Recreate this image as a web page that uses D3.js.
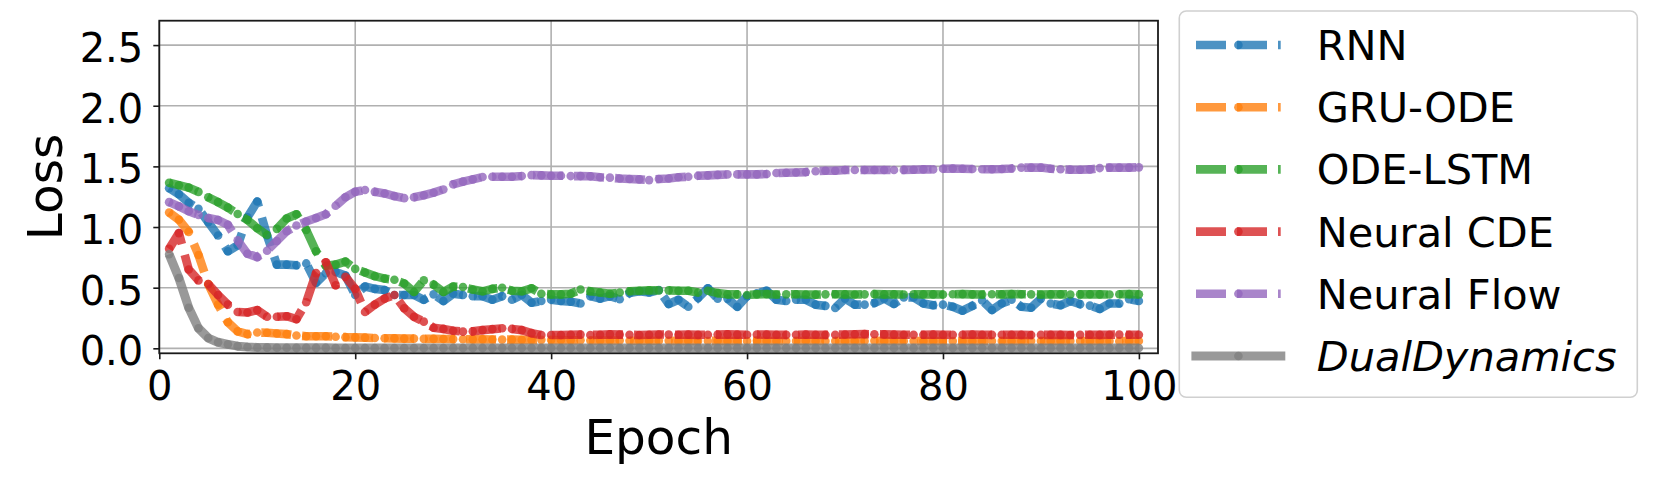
<!DOCTYPE html>
<html>
<head>
<meta charset="utf-8">
<script src="https://cdn.jsdelivr.net/npm/d3@7"></script>
<style>
  body { margin: 0; background: #fff; }
  svg { display: block; font-family: "DejaVu Sans", sans-serif; }
</style>
</head>
<body>
<svg id="chart"></svg>
<script>
// epochs 1..100
const epochs = d3.range(1, 101)

const seriesNames = ['RNN', 'GRU-ODE', 'ODE-LSTM', 'Neural CDE', 'Neural Flow', 'DualDynamics']

const rnnLoss = [
    1.32, 1.27, 1.20, 1.15, 1.04, 0.93, 0.80, 0.85, 1.08, 1.21,
    0.93, 0.69, 0.69, 0.685, 0.70, 0.54, 0.62, 0.63, 0.60, 0.44,
    0.51, 0.49, 0.48, 0.44, 0.44, 0.44, 0.40, 0.445, 0.39, 0.45,
    0.44, 0.43, 0.43, 0.40, 0.43, 0.40, 0.44, 0.376, 0.39, 0.40,
    0.39, 0.385, 0.37, 0.43, 0.41, 0.43, 0.405, 0.455, 0.47, 0.46,
    0.48, 0.365, 0.40, 0.343, 0.415, 0.495, 0.41, 0.41, 0.343, 0.43,
    0.453, 0.475, 0.40, 0.39, 0.40, 0.40, 0.36, 0.35, 0.333, 0.41,
    0.36, 0.36, 0.373, 0.41, 0.366, 0.42, 0.42, 0.37, 0.355, 0.36,
    0.343, 0.31, 0.35, 0.395, 0.316, 0.37, 0.40, 0.343, 0.335, 0.41,
    0.37, 0.355, 0.39, 0.364, 0.352, 0.325, 0.37, 0.37, 0.405, 0.39
]
const gruOdeLoss = [
    1.12, 1.06, 0.96, 0.77, 0.53, 0.36, 0.215, 0.14, 0.117, 0.13,
    0.128, 0.122, 0.117, 0.106, 0.10, 0.10, 0.10, 0.096, 0.092, 0.09,
    0.088, 0.085, 0.083, 0.082, 0.08, 0.08, 0.078, 0.078, 0.077, 0.076,
    0.075, 0.074, 0.074, 0.073, 0.072, 0.072, 0.071, 0.07, 0.07, 0.069,
    0.068, 0.067, 0.066, 0.065, 0.065, 0.064, 0.064, 0.063, 0.063, 0.063,
    0.062, 0.062, 0.061, 0.062, 0.061, 0.061, 0.062, 0.061, 0.060, 0.061,
    0.062, 0.061, 0.061, 0.060, 0.061, 0.062, 0.061, 0.060, 0.061, 0.061,
    0.060, 0.061, 0.062, 0.061, 0.060, 0.060, 0.061, 0.061, 0.060, 0.061,
    0.061, 0.060, 0.060, 0.061, 0.060, 0.061, 0.060, 0.060, 0.061, 0.060,
    0.060, 0.061, 0.060, 0.060, 0.061, 0.060, 0.060, 0.059, 0.060, 0.060
]
const odeLstmLoss = [
    1.365, 1.345, 1.325, 1.29, 1.245, 1.205, 1.16, 1.108, 1.058, 0.99,
    0.934, 0.985, 1.07, 1.105, 0.975, 0.80, 0.68, 0.69, 0.715, 0.655,
    0.625, 0.595, 0.575, 0.565, 0.535, 0.465, 0.56, 0.525, 0.465, 0.51,
    0.505, 0.485, 0.47, 0.49, 0.50, 0.475, 0.47, 0.495, 0.45, 0.445,
    0.445, 0.45, 0.485, 0.47, 0.46, 0.45, 0.46, 0.47, 0.475, 0.478,
    0.478, 0.478, 0.475, 0.475, 0.46, 0.475, 0.455, 0.445, 0.445, 0.44,
    0.445, 0.447, 0.444, 0.445, 0.446, 0.444, 0.443, 0.445, 0.446, 0.445,
    0.444, 0.445, 0.447, 0.445, 0.446, 0.444, 0.446, 0.445, 0.445, 0.444,
    0.446, 0.447, 0.445, 0.444, 0.446, 0.445, 0.447, 0.446, 0.445, 0.444,
    0.445, 0.446, 0.444, 0.445, 0.446, 0.445, 0.444, 0.446, 0.447, 0.445
]
const neuralCdeLoss = [
    0.82, 0.95, 0.65, 0.56, 0.53, 0.44, 0.36, 0.30, 0.295, 0.315,
    0.26, 0.26, 0.265, 0.24, 0.38, 0.62, 0.71, 0.52, 0.59, 0.49,
    0.30, 0.36, 0.41, 0.44, 0.33, 0.26, 0.22, 0.17, 0.16, 0.145,
    0.138, 0.14, 0.15, 0.158, 0.165, 0.16, 0.15, 0.125, 0.11, 0.11,
    0.11, 0.112, 0.113, 0.11, 0.112, 0.115, 0.113, 0.112, 0.11, 0.112,
    0.114, 0.113, 0.112, 0.113, 0.111, 0.112, 0.113, 0.115, 0.113, 0.112,
    0.114, 0.113, 0.112, 0.111, 0.112, 0.113, 0.112, 0.111, 0.112, 0.114,
    0.116, 0.117, 0.116, 0.115, 0.113, 0.112, 0.111, 0.112, 0.113, 0.112,
    0.111, 0.112, 0.113, 0.112, 0.111, 0.112, 0.112, 0.111, 0.110, 0.111,
    0.112, 0.111, 0.110, 0.111, 0.112, 0.111, 0.112, 0.113, 0.112, 0.112
]
const neuralFlowLoss = [
    1.205, 1.17, 1.13, 1.10, 1.075, 1.058, 1.018, 0.89, 0.78, 0.752,
    0.805, 0.885, 0.965, 1.012, 1.045, 1.075, 1.105, 1.175, 1.245, 1.29,
    1.305, 1.29, 1.277, 1.255, 1.238, 1.245, 1.262, 1.283, 1.31, 1.352,
    1.374, 1.393, 1.412, 1.415, 1.415, 1.415, 1.42, 1.428, 1.426, 1.423,
    1.423, 1.42, 1.42, 1.418, 1.41, 1.407, 1.40, 1.396, 1.393, 1.387,
    1.396, 1.40, 1.41, 1.415, 1.423, 1.426, 1.43, 1.434, 1.434, 1.434,
    1.434, 1.437, 1.445, 1.448, 1.45, 1.453, 1.46, 1.464, 1.464, 1.47,
    1.47, 1.47, 1.47, 1.47, 1.47, 1.471, 1.472, 1.475, 1.475, 1.48,
    1.483, 1.48, 1.478, 1.476, 1.476, 1.478, 1.483, 1.49, 1.49, 1.49,
    1.48, 1.476, 1.473, 1.472, 1.475, 1.486, 1.49, 1.49, 1.49, 1.492
]
const dualDynamicsLoss = [
    0.775, 0.58, 0.335, 0.165, 0.085, 0.05, 0.033, 0.018, 0.011, 0.007,
    0.006, 0.005, 0.005, 0.004, 0.004, 0.004, 0.004, 0.003, 0.003, 0.003,
    0.003, 0.003, 0.003, 0.003, 0.003, 0.003, 0.003, 0.003, 0.003, 0.003,
    0.003, 0.003, 0.003, 0.003, 0.003, 0.003, 0.003, 0.003, 0.003, 0.003,
    0.003, 0.003, 0.003, 0.003, 0.003, 0.003, 0.003, 0.003, 0.003, 0.003,
    0.003, 0.003, 0.003, 0.003, 0.003, 0.003, 0.003, 0.003, 0.003, 0.003,
    0.003, 0.003, 0.003, 0.003, 0.003, 0.003, 0.003, 0.003, 0.003, 0.003,
    0.003, 0.003, 0.003, 0.003, 0.003, 0.003, 0.003, 0.003, 0.003, 0.003,
    0.003, 0.003, 0.003, 0.003, 0.003, 0.003, 0.003, 0.003, 0.003, 0.003,
    0.003, 0.003, 0.003, 0.003, 0.003, 0.003, 0.003, 0.003, 0.003, 0.003
]

const xTicks = [0, 20, 40, 60, 80, 100]
const yTicks = [0, 0.5, 1.0, 1.5, 2.0, 2.5]

class LossChart {

    constructor(_config) {
        this.config = {
            parentElement: _config.parentElement,
            containerWidth: 1661,
            containerHeight: 485,
            plot: { left: 159.3, top: 20.7, right: 1158, bottom: 353.3 }
        }
        this.initVis()
    }

    initVis() {
        let vis = this
        let p = vis.config.plot

        vis.svg = d3.select(vis.config.parentElement)
            .attr('width', vis.config.containerWidth)
            .attr('height', vis.config.containerHeight)

        vis.xScale = d3.scaleLinear().domain([0, 101.95]).range([p.left, p.right])
        vis.yScale = d3.scaleLinear().domain([-0.041, 2.701]).range([p.bottom, p.top])

        vis.series = [
            { name: seriesNames[0], values: rnnLoss, color: '#1f77b4', dashed: true },
            { name: seriesNames[1], values: gruOdeLoss, color: '#ff7f0e', dashed: true },
            { name: seriesNames[2], values: odeLstmLoss, color: '#2ca02c', dashed: true },
            { name: seriesNames[3], values: neuralCdeLoss, color: '#d62728', dashed: true },
            { name: seriesNames[4], values: neuralFlowLoss, color: '#9467bd', dashed: true },
            { name: seriesNames[5], values: dualDynamicsLoss, color: '#7f7f7f', dashed: false }
        ]

        vis.renderVis()
    }

    renderVis() {
        let vis = this
        let p = vis.config.plot

        // grid
        let grid = vis.svg.append('g').attr('stroke', '#b0b0b0').attr('stroke-width', 1.6)
        grid.selectAll('.gx').data(xTicks).join('line')
            .attr('x1', d => vis.xScale(d)).attr('x2', d => vis.xScale(d))
            .attr('y1', p.top).attr('y2', p.bottom)
        grid.selectAll('.gy').data(yTicks).join('line')
            .attr('class', 'gy')
            .attr('x1', p.left).attr('x2', p.right)
            .attr('y1', d => vis.yScale(d)).attr('y2', d => vis.yScale(d))

        let line = d3.line()
            .x((d, i) => vis.xScale(epochs[i]))
            .y(d => vis.yScale(d))

        let plotG = vis.svg.append('g')
        vis.series.forEach(s => {
            let g = plotG.append('g')
            g.append('path')
                .attr('d', line(s.values))
                .attr('fill', 'none')
                .attr('stroke', s.color)
                .attr('stroke-opacity', 0.8)
                .attr('stroke-width', s.dashed ? 8.6 : 9)
                .attr('stroke-dasharray', s.dashed ? '30,11' : null)
                .attr('stroke-linejoin', 'round')
            g.selectAll('circle').data(s.values).join('circle')
                .attr('cx', (d, i) => vis.xScale(epochs[i]))
                .attr('cy', d => vis.yScale(d))
                .attr('r', 4.3)
                .attr('fill', s.color)
                .attr('fill-opacity', 0.8)
        })

        // spines
        vis.svg.append('rect')
            .attr('x', p.left).attr('y', p.top)
            .attr('width', p.right - p.left).attr('height', p.bottom - p.top)
            .attr('fill', 'none').attr('stroke', '#1a1a1a').attr('stroke-width', 1.8)

        let xAxis = d3.axisBottom(vis.xScale).tickValues(xTicks).tickFormat(d3.format('d'))
            .tickSize(6).tickPadding(12.5)
        let yAxis = d3.axisLeft(vis.yScale).tickValues(yTicks).tickFormat(d3.format('.1f'))
            .tickSize(6).tickPadding(10)

        let xAxisG = vis.svg.append('g')
            .attr('transform', `translate(0,${p.bottom})`)
            .call(xAxis)
        let yAxisG = vis.svg.append('g')
            .attr('transform', `translate(${p.left},0)`)
            .call(yAxis)

        ;[xAxisG, yAxisG].forEach(a => {
            a.select('.domain').remove()
            a.selectAll('.tick line').attr('stroke', '#1a1a1a').attr('stroke-width', 1.6)
            a.selectAll('.tick text')
                .attr('font-family', '"DejaVu Sans", sans-serif')
                .attr('font-size', 40)
                .attr('fill', '#000')
        })
        yAxisG.selectAll('.tick text').attr('dy', '0.41em')

        // axis titles
        vis.svg.append('text')
            .attr('x', (p.left + p.right) / 2).attr('y', 454)
            .attr('text-anchor', 'middle')
            .attr('font-size', 48.5)
            .text('Epoch')
        vis.svg.append('text')
            .attr('transform', `translate(62,${(p.top + p.bottom) / 2}) rotate(-90)`)
            .attr('text-anchor', 'middle')
            .attr('font-size', 48.5)
            .text('Loss')

        // legend
        let legend = vis.svg.append('g')
        legend.append('rect')
            .attr('x', 1179.3).attr('y', 11)
            .attr('width', 458).attr('height', 386.3)
            .attr('rx', 7)
            .attr('fill', '#fff').attr('fill-opacity', 0.8)
            .attr('stroke', '#d0d0d0').attr('stroke-width', 1.6)

        let rowY = i => 45 + i * 62.2
        let items = legend.selectAll('.item').data(vis.series).join('g')
            .attr('transform', (d, i) => `translate(0,${rowY(i)})`)
        items.append('line')
            .attr('x1', d => d.dashed ? 1196 : 1191.4)
            .attr('x2', d => d.dashed ? 1280.7 : 1285.3)
            .attr('stroke', d => d.color)
            .attr('stroke-opacity', 0.8)
            .attr('stroke-width', d => d.dashed ? 8.6 : 9)
            .attr('stroke-dasharray', d => d.dashed ? '30,11' : null)
        items.append('circle')
            .attr('cx', 1238.4).attr('r', 4.3)
            .attr('fill', d => d.color).attr('fill-opacity', 0.8)
        items.append('text')
            .attr('x', 1316.7).attr('y', 15)
            .attr('font-size', 41.5)
            .attr('font-style', d => d.dashed ? 'normal' : 'italic')
            .text(d => d.name)
    }
}

let chart = new LossChart({ parentElement: '#chart' })
</script>
</body>
</html>
